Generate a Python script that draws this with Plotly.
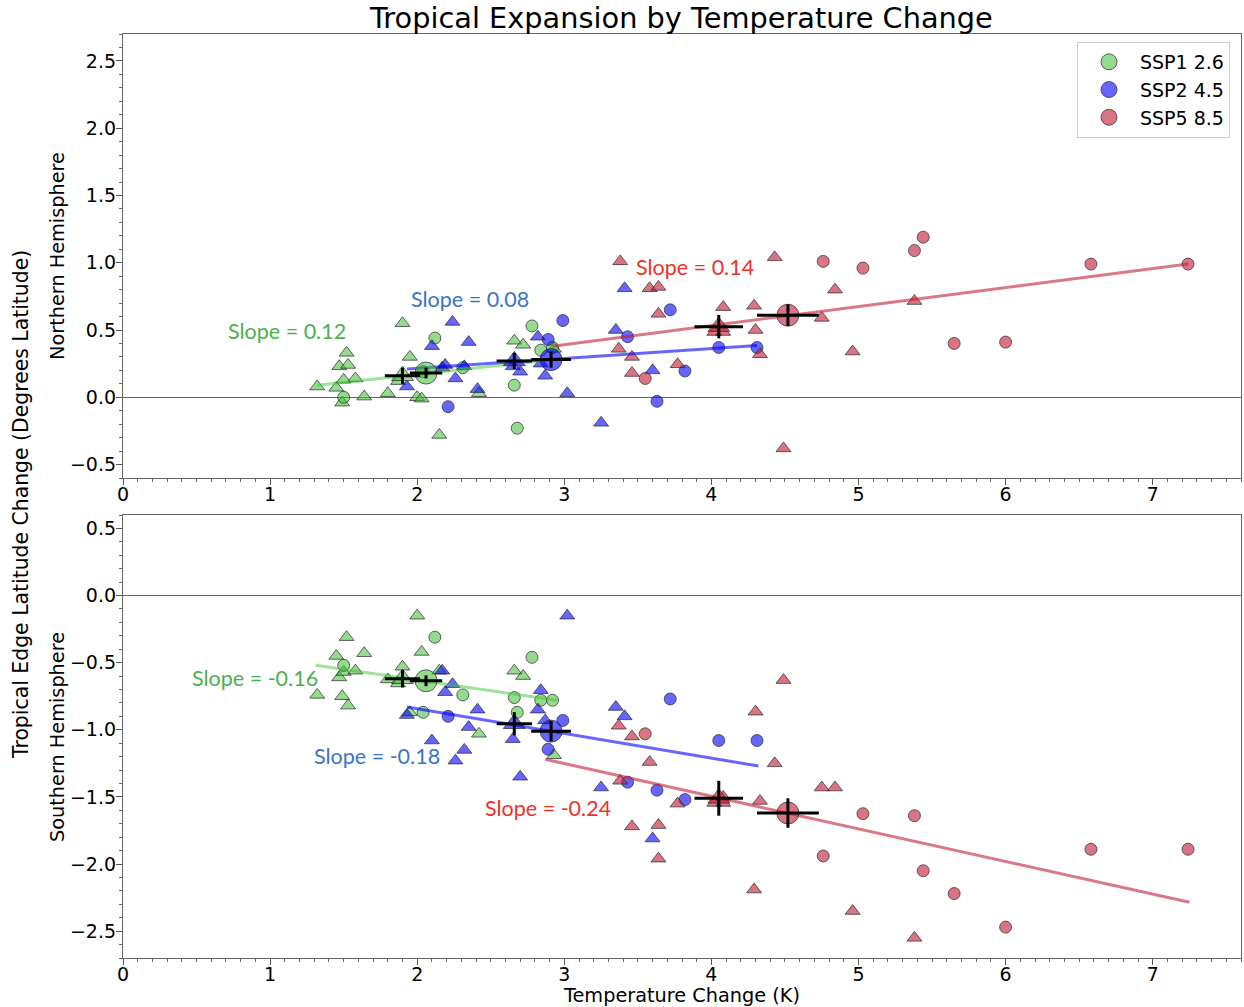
import plotly.graph_objects as go

# ---------------- data ----------------
scenarios = ["SSP1 2.6", "SSP2 4.5", "SSP5 8.5"]

# SSP1 2.6
ssp1_circ_x = [1.50, 2.04, 2.12, 2.31, 2.66, 2.68, 2.78, 2.84, 2.92]
ssp1_circ_nh = [0.00, 0.19, 0.44, 0.22, 0.09, -0.23, 0.53, 0.35, 0.37]
ssp1_circ_sh = [-0.52, -0.87, -0.31, -0.74, -0.76, -0.87, -0.46, -0.78, -0.78]
ssp1_tri_x = [1.32, 1.45, 1.47, 1.49, 1.50, 1.52, 1.53, 1.58, 1.64, 1.80,
              1.87, 1.90, 1.95, 2.00, 2.03, 2.15, 2.42, 2.66, 2.72, 2.93]
ssp1_tri_nh = [0.08, 0.07, 0.23, -0.04, 0.13, 0.33, 0.24, 0.14, 0.005, 0.03,
               0.12, 0.55, 0.30, 0.00, -0.01, -0.28, 0.03, 0.42, 0.39, 0.36]
ssp1_tri_sh = [-0.74, -0.45, -0.61, -0.75, -0.57, -0.31, -0.82, -0.56, -0.43, -0.625,
               -0.655, -0.53, -0.87, -0.15, -0.42, -0.56, -1.03, -0.56, -0.60, -1.19]

# SSP2 4.5
ssp2_circ_x = [2.21, 2.89, 2.99, 3.43, 3.63, 3.72, 3.82, 4.05, 4.31]
ssp2_circ_nh = [-0.07, 0.43, 0.57, 0.45, -0.03, 0.65, 0.195, 0.37, 0.37]
ssp2_circ_sh = [-0.90, -1.145, -0.93, -1.39, -1.45, -0.77, -1.52, -1.08, -1.08]
ssp2_tri_x = [1.93, 2.10, 2.17, 2.19, 2.24, 2.26, 2.32, 2.35, 2.41, 2.65,
              2.70, 2.82, 2.84, 2.87, 3.02, 3.25, 3.35, 3.41, 3.60]
ssp2_tri_nh = [0.08, 0.38, 0.22, 0.24, 0.56, 0.14, 0.23, 0.41, 0.06, 0.23,
               0.19, 0.45, 0.25, 0.16, 0.03, -0.19, 0.50, 0.81, 0.20]
ssp2_tri_sh = [-0.89, -1.08, -0.56, -0.72, -0.66, -1.23, -1.15, -0.98, -0.85, -1.07,
               -1.35, -0.85, -0.705, -0.93, -0.15, -1.43, -0.83, -0.90, -1.81]

# SSP5 8.5
ssp5_circ_x = [3.55, 4.76, 5.03, 5.38, 5.44, 5.65, 6.00, 6.58, 7.24]
ssp5_circ_nh = [0.14, 1.01, 0.96, 1.09, 1.19, 0.40, 0.41, 0.99, 0.99]
ssp5_circ_sh = [-1.03, -1.94, -1.625, -1.64, -2.05, -2.22, -2.47, -1.89, -1.89]
ssp5_tri_x = [3.37, 3.38, 3.46, 3.46, 3.58, 3.64, 3.64, 3.77, 4.02, 4.08,
              4.08, 4.29, 4.30, 4.33, 4.43, 4.49, 4.75, 4.84, 4.96, 5.38]
ssp5_tri_nh = [0.36, 1.01, 0.30, 0.18, 0.81, 0.82, 0.62, 0.245, 0.485, 0.485,
               0.67, 0.68, 0.50, 0.32, 1.04, -0.38, 0.59, 0.80, 0.34, 0.715]
ssp5_tri_sh = [-0.97, -1.38, -1.05, -1.72, -1.24, -1.71, -1.96, -1.55, -1.545, -1.545,
               -1.50, -2.19, -0.865, -1.53, -1.25, -0.63, -1.43, -1.43, -2.35, -2.55]

# ensemble means (triangle group, circle group) with uncertainty
mean_tri_x = [1.90, 2.66, 4.05]
mean_tri_xerr = [0.12, 0.12, 0.165]
mean_tri_nh = [0.16, 0.27, 0.525]
mean_tri_nh_err = [0.06, 0.06, 0.087]
mean_tri_sh = [-0.62, -0.955, -1.51]
mean_tri_sh_err = [0.065, 0.087, 0.13]

mean_circ_x = [2.06, 2.91, 4.52]
mean_circ_xerr = [0.11, 0.135, 0.21]
mean_circ_nh = [0.18, 0.28, 0.61]
mean_circ_nh_err = [0.04, 0.06, 0.08]
mean_circ_sh = [-0.635, -1.01, -1.62]
mean_circ_sh_err = [0.04, 0.075, 0.11]

# regression fit lines (endpoints) and slopes
fit_x_nh = [[1.32, 2.93], [1.93, 4.31], [2.92, 7.24]]
fit_y_nh = [[0.09, 0.28], [0.21, 0.385], [0.38, 0.99]]
fit_x_sh = [[1.31, 2.95], [1.93, 4.32], [2.87, 7.25]]
fit_y_sh = [[-0.52, -0.78], [-0.83, -1.27], [-1.22, -2.285]]
slope_nh = ["0.12", "0.08", "0.14"]
slope_sh = ["-0.16", "-0.18", "-0.24"]
slope_nh_pos = [(1.115, 0.49), (2.36, 0.73), (3.89, 0.965)]
slope_sh_pos = [(0.90, -0.615), (1.725, -1.195), (2.89, -1.58)]

x_ticks = [0, 1, 2, 3, 4, 5, 6, 7]
nh_ticks = [-0.5, 0.0, 0.5, 1.0, 1.5, 2.0, 2.5]
sh_ticks = [0.5, 0.0, -0.5, -1.0, -1.5, -2.0, -2.5]

# ---------------- styling ----------------
fill = ["rgba(60,190,50,0.55)", "rgba(0,0,255,0.6)", "rgba(195,30,55,0.62)"]
line_col = ["rgba(60,200,50,0.5)", "rgba(0,0,255,0.6)", "rgba(195,30,55,0.6)"]
text_col = ["#4db04f", "#3a74c6", "#ee3228"]
edge = "rgba(40,40,40,0.7)"
W, H = 1244, 1007
FONT = "DejaVu Sans"

data_sets = [
    (ssp1_circ_x, ssp1_circ_nh, ssp1_circ_sh, ssp1_tri_x, ssp1_tri_nh, ssp1_tri_sh),
    (ssp2_circ_x, ssp2_circ_nh, ssp2_circ_sh, ssp2_tri_x, ssp2_tri_nh, ssp2_tri_sh),
    (ssp5_circ_x, ssp5_circ_nh, ssp5_circ_sh, ssp5_tri_x, ssp5_tri_nh, ssp5_tri_sh),
]

fig = go.Figure()

panels = [("x", "y", 1), ("x2", "y2", 2)]
for xa, ya, p in panels:
    # individual models
    for i, (cx, cnh, csh, tx, tnh, tsh) in enumerate(data_sets):
        cy = cnh if p == 1 else csh
        ty = tnh if p == 1 else tsh
        fig.add_trace(go.Scatter(x=tx, y=ty, mode="markers", xaxis=xa, yaxis=ya,
                                 marker=dict(symbol="triangle-up", size=13, color=fill[i],
                                             line=dict(color=edge, width=1)),
                                 showlegend=False, hoverinfo="skip"))
        fig.add_trace(go.Scatter(x=cx, y=cy, mode="markers", xaxis=xa, yaxis=ya,
                                 marker=dict(symbol="circle", size=12, color=fill[i],
                                             line=dict(color=edge, width=1)),
                                 showlegend=False, hoverinfo="skip"))
    # fit lines
    fx = fit_x_nh if p == 1 else fit_x_sh
    fy = fit_y_nh if p == 1 else fit_y_sh
    for i in range(3):
        fig.add_trace(go.Scatter(x=fx[i], y=fy[i], mode="lines", xaxis=xa, yaxis=ya,
                                 line=dict(color=line_col[i], width=3),
                                 showlegend=False, hoverinfo="skip"))
    # mean markers
    ty_m = mean_tri_nh if p == 1 else mean_tri_sh
    cy_m = mean_circ_nh if p == 1 else mean_circ_sh
    ty_e = mean_tri_nh_err if p == 1 else mean_tri_sh_err
    cy_e = mean_circ_nh_err if p == 1 else mean_circ_sh_err
    for i in range(3):
        fig.add_trace(go.Scatter(x=[mean_tri_x[i]], y=[ty_m[i]], mode="markers", xaxis=xa, yaxis=ya,
                                 marker=dict(symbol="triangle-up", size=19, color=fill[i],
                                             line=dict(color=edge, width=1)),
                                 showlegend=False, hoverinfo="skip"))
        fig.add_trace(go.Scatter(x=[mean_circ_x[i]], y=[cy_m[i]], mode="markers", xaxis=xa, yaxis=ya,
                                 marker=dict(symbol="circle", size=22, color=fill[i],
                                             line=dict(color=edge, width=1)),
                                 showlegend=False, hoverinfo="skip"))
    # error crosses
    fig.add_trace(go.Scatter(x=mean_tri_x + mean_circ_x, y=list(ty_m) + list(cy_m),
                             mode="markers", xaxis=xa, yaxis=ya,
                             marker=dict(size=1, color="rgba(0,0,0,0)"),
                             error_x=dict(type="data", array=mean_tri_xerr + mean_circ_xerr,
                                          color="black", thickness=3, width=0),
                             error_y=dict(type="data", array=list(ty_e) + list(cy_e),
                                          color="black", thickness=3, width=0),
                             showlegend=False, hoverinfo="skip"))

# legend entries
for i, name in enumerate(scenarios):
    fig.add_trace(go.Scatter(x=[None], y=[None], mode="markers", name=name,
                             marker=dict(symbol="circle", size=22, color=fill[i],
                                         line=dict(color=edge, width=1)),
                             xaxis="x", yaxis="y"))

# slope annotations
ann = []
for i in range(3):
    ann.append(dict(x=slope_nh_pos[i][0], y=slope_nh_pos[i][1], xref="x", yref="y",
                    xanchor="center", yanchor="middle",
                    text="Slope = " + slope_nh[i], showarrow=False,
                    font=dict(family="Lato", size=21.5, color=text_col[i])))
    ann.append(dict(x=slope_sh_pos[i][0], y=slope_sh_pos[i][1], xref="x2", yref="y2",
                    xanchor="center", yanchor="middle",
                    text="Slope = " + slope_sh[i], showarrow=False,
                    font=dict(family="Lato", size=21.5, color=text_col[i])))


def paper_text(px, py, text, size, angle=0):
    return dict(x=px / W, y=1 - py / H, xref="paper", yref="paper", text=text,
                textangle=angle, showarrow=False, xanchor="center", yanchor="middle",
                font=dict(family=FONT, size=size, color="black"))


ann += [
    paper_text(57, 256, "Northern Hemisphere", 19.3, -90),
    paper_text(57, 737, "Southern Hemisphere", 19.3, -90),
    paper_text(21, 505, "Tropical Edge Latitude Change (Degrees Latitude)", 20.4, -90),
    paper_text(681, 995, "Temperature Change (K)", 19.3),
    paper_text(681, 18, "Tropical Expansion by Temperature Change", 28.8),
]

axis_common = dict(showline=True, mirror=True, linecolor="#666666", linewidth=1.3,
                   ticks="outside", ticklen=6, tickwidth=1.2, tickcolor="#555555",
                   showgrid=False, automargin=False,
                   tickfont=dict(family=FONT, size=19, color="black"))

xa_common = dict(range=[0, 7.6], tickvals=x_ticks, ticktext=[str(v) for v in x_ticks],
                 zeroline=False, ticklabelstandoff=-7,
                 minor=dict(dtick=0.1, tick0=0, ticks="outside", ticklen=3, tickcolor="#666666"),
                 **axis_common)

ya_minor = dict(dtick=0.1, tick0=0, ticks="outside", ticklen=3, tickcolor="#666666")

fig.update_layout(
    width=W, height=H,
    margin=dict(l=0, r=0, t=0, b=0, pad=0, autoexpand=False),
    paper_bgcolor="white", plot_bgcolor="white",
    showlegend=True,
    xaxis=dict(domain=[123 / W, 1241 / W], anchor="y", **xa_common),
    xaxis2=dict(domain=[123 / W, 1241 / W], anchor="y2", **xa_common),
    yaxis=dict(domain=[1 - 478 / H, 1 - 34 / H], anchor="x", range=[-0.6, 2.7],
               tickvals=nh_ticks, tickformat=".1f", ticklabelstandoff=-4,
               zeroline=True, zerolinecolor="#666666", zerolinewidth=1.2,
               minor=ya_minor, **axis_common),
    yaxis2=dict(domain=[1 - 958 / H, 1 - 515 / H], anchor="x2", range=[-2.7, 0.6],
                tickvals=sh_ticks, tickformat=".1f", ticklabelstandoff=-4,
                zeroline=True, zerolinecolor="#666666", zerolinewidth=1.2,
                minor=ya_minor, **axis_common),
    legend=dict(x=1230 / W, y=1 - 42 / H, xanchor="right", yanchor="top",
                bgcolor="white", bordercolor="#cccccc", borderwidth=1,
                font=dict(family=FONT, size=19, color="black"),
                itemsizing="trace", itemwidth=52, tracegroupgap=4),
    annotations=ann,
)

fig.write_html("out.html")
